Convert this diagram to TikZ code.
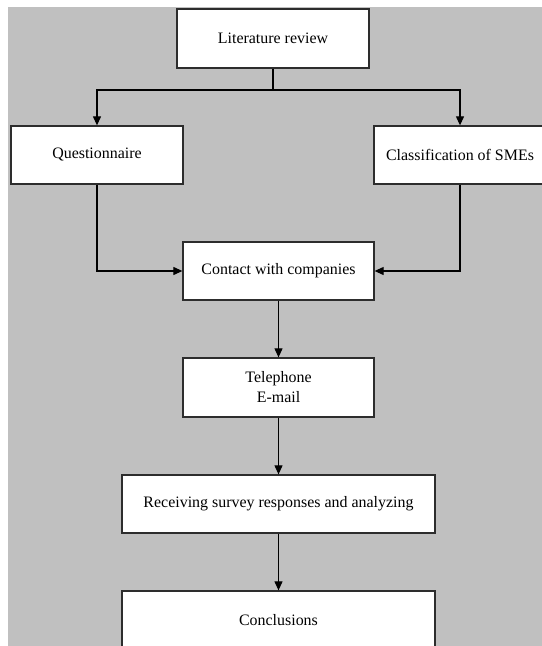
\documentclass[tikz,border=0pt]{standalone}
\usepackage{fontspec}
\setmainfont{Liberation Serif}
\usetikzlibrary{arrows.meta}
\definecolor{bggray}{RGB}{192,192,192}
\definecolor{boxline}{RGB}{45,45,45}
\tikzset{
  box/.style={draw=boxline, line width=1.3bp, fill=white, inner sep=0pt, align=center,
    font=\fontsize{16}{20}\selectfont},
  conn/.style={draw=black, line width=1.1bp},
  arr/.style={conn, -{Triangle[length=9bp,width=8bp]}}
}
\begin{document}
\begin{tikzpicture}[x=1bp,y=-1bp]
\useasboundingbox (0,0) rectangle (542,646);
\clip (0,0) rectangle (542,646);
\fill[white] (0,0) rectangle (542,646);
\fill[bggray] (8,7) rectangle (542,646);

\node[box, minimum width=192bp, minimum height=59bp] (lit) at (273,38.5) {Literature review};
\node[box, minimum width=172bp, minimum height=58bp] (q) at (97,155) {Questionnaire};
\node[box, minimum width=172bp, minimum height=58bp] (cls) at (460,155) {Classification of SMEs};
\node[box, minimum width=191bp, minimum height=58bp] (contact) at (278.5,271) {Contact with companies};
\node[box, minimum width=191bp, minimum height=59bp] (tel) at (278.5,387.5) {Telephone\\E-mail};
\node[box, minimum width=313bp, minimum height=58bp] (recv) at (278.5,504) {Receiving survey responses and analyzing};
\node[box, minimum width=313bp, minimum height=58bp] (concl) at (278.5,620) {Conclusions};

\coordinate (split) at (273,90);
\draw[conn] (lit.south) -- (split);
\draw[arr] (split) -| (q.north);
\draw[arr] (split) -| (cls.north);
\draw[arr] (q.south) |- (contact.west);
\draw[arr] (cls.south) |- (contact.east);
\draw[arr] (contact) -- (tel);
\draw[arr] (tel) -- (recv);
\draw[arr] (recv) -- (concl);
\end{tikzpicture}
\end{document}
